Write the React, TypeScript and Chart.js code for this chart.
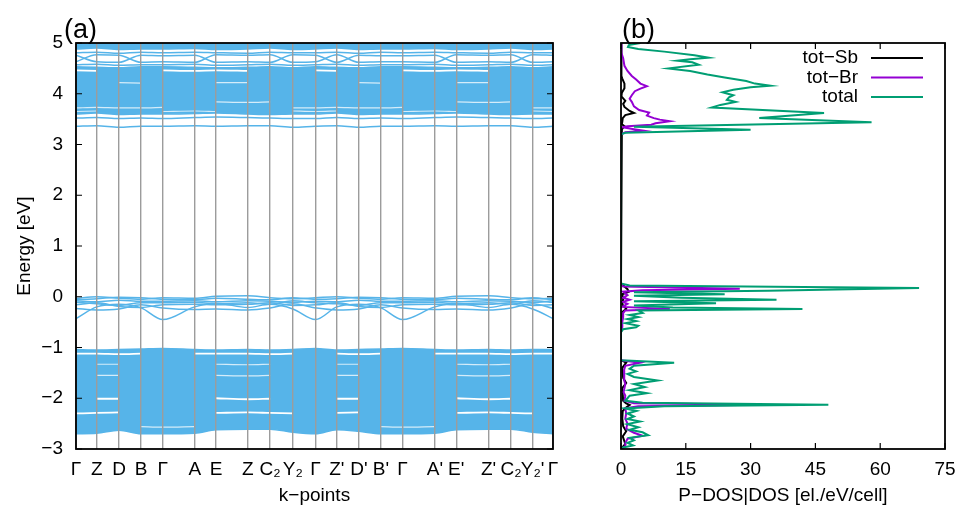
import React, { useEffect, useRef } from "react";
import { Chart, registerables } from "chart.js";

Chart.register(...registerables);

const FONT = "'Liberation Sans', Arial, 'DejaVu Sans', sans-serif";
const BLUE = "#56B4E9";
const GREEN = "#009E73";
const PURPLE = "#9400D3";
const BLACK = "#000000";

// ---------- Panel (a): band structure ----------
const kPos = [0, 20.7, 43, 65, 86.7, 118.7, 140, 171.7, 194, 216.7, 239.3, 260.7, 282.7, 304.7, 326.3, 358.7, 380, 412.3, 434.7, 456.3, 476.7];
const kLabels = ["Γ", "Z", "D", "B", "Γ", "A", "E", "Z", "C₂", "Y₂", "Γ", "Z'", "D'", "B'", "Γ", "A'", "E'", "Z'", "C₂", "Y₂'", "Γ"];

// dense conduction blocks (top / bottom envelopes)
const cUpperTop = [5.3, 5.3, 5.3, 5.3, 5.3, 5.3, 5.3, 5.3, 5.3, 5.3, 5.3, 5.3, 5.3, 5.3, 5.3, 5.3, 5.3, 5.3, 5.3, 5.3, 5.3];
const cUpperBot = [4.88, 4.9, 4.87, 4.88, 4.88, 4.89, 4.87, 4.88, 4.9, 4.87, 4.88, 4.9, 4.87, 4.88, 4.88, 4.89, 4.87, 4.88, 4.9, 4.87, 4.88];
const cMainTop = [4.53, 4.52, 4.51, 4.53, 4.53, 4.52, 4.51, 4.52, 4.53, 4.51, 4.53, 4.52, 4.51, 4.53, 4.53, 4.52, 4.51, 4.52, 4.53, 4.51, 4.53];
const cMainBot = [3.6, 3.62, 3.59, 3.6, 3.6, 3.61, 3.62, 3.6, 3.59, 3.6, 3.6, 3.62, 3.59, 3.6, 3.6, 3.61, 3.62, 3.6, 3.59, 3.6, 3.6];
// single conduction bands
const c481 = [4.81, 4.82, 4.8, 4.82, 4.81, 4.82, 4.81, 4.8, 4.82, 4.81, 4.81, 4.82, 4.8, 4.82, 4.81, 4.82, 4.81, 4.8, 4.82, 4.81, 4.81];
const cx1 = [4.63, 4.77, 4.76, 4.62, 4.63, 4.62, 4.77, 4.76, 4.77, 4.62, 4.63, 4.77, 4.62, 4.63, 4.63, 4.62, 4.77, 4.76, 4.77, 4.62, 4.63];
const cx2 = [4.76, 4.63, 4.62, 4.76, 4.75, 4.76, 4.62, 4.63, 4.62, 4.77, 4.76, 4.62, 4.76, 4.75, 4.75, 4.76, 4.62, 4.63, 4.62, 4.77, 4.76];
const c457 = [4.57, 4.58, 4.56, 4.57, 4.57, 4.58, 4.56, 4.57, 4.58, 4.56, 4.57, 4.58, 4.56, 4.57, 4.57, 4.58, 4.56, 4.57, 4.58, 4.56, 4.57];
const c352 = [3.52, 3.53, 3.51, 3.52, 3.51, 3.53, 3.54, 3.53, 3.52, 3.51, 3.51, 3.53, 3.51, 3.52, 3.51, 3.53, 3.54, 3.53, 3.52, 3.51, 3.52];
const c336 = [3.36, 3.37, 3.34, 3.36, 3.36, 3.37, 3.36, 3.37, 3.37, 3.34, 3.36, 3.37, 3.34, 3.36, 3.36, 3.37, 3.36, 3.37, 3.37, 3.34, 3.36];
// gaps inside the conduction block
const wc1 = [4.46, 4.45, null, null, 4.46, 4.45, 4.46, 4.45, null, null, 4.46, 4.45, null, null, 4.46, 4.45, 4.46, 4.45, null, null, 4.46];
const wc2 = [null, null, 4.22, 4.21, null, null, 4.22, 4.22, null, null, null, null, 4.22, 4.21, null, null, 4.22, 4.22, null, null, null];
const wc3 = [null, null, null, null, null, null, 3.84, 3.83, 3.84, null, null, null, null, null, null, null, 3.84, 3.83, 3.84, null, null];
const wc4 = [3.72, 3.73, 3.72, 3.72, 3.73, null, null, null, null, 3.72, 3.72, 3.73, 3.72, 3.72, 3.73, null, null, null, null, 3.72, 3.72];
const wc5 = [3.65, 3.66, null, null, 3.65, 3.66, 3.65, null, null, 3.66, 3.65, 3.66, null, null, 3.65, 3.66, 3.65, null, null, 3.66, 3.65];

// bands near the valence-band maximum
const n1 = [-0.03, 0.0, -0.03, -0.05, -0.02, -0.03, 0.01, 0.02, -0.02, -0.04, -0.02, 0.0, -0.03, -0.05, -0.02, -0.03, 0.01, 0.02, -0.02, -0.04, -0.03];
const n2 = [-0.06, -0.04, -0.01, -0.02, -0.05, -0.06, -0.03, -0.05, -0.06, -0.02, -0.05, -0.04, -0.01, -0.02, -0.05, -0.06, -0.03, -0.05, -0.06, -0.02, -0.06];
const n3 = [-0.08, -0.1, -0.07, -0.09, -0.09, -0.08, -0.1, -0.08, -0.09, -0.11, -0.09, -0.1, -0.07, -0.09, -0.09, -0.08, -0.1, -0.08, -0.09, -0.11, -0.08];
const n4 = [-0.11, -0.14, -0.17, -0.12, -0.12, -0.11, -0.14, -0.12, -0.15, -0.08, -0.12, -0.14, -0.17, -0.12, -0.12, -0.11, -0.14, -0.12, -0.15, -0.08, -0.11];
const n5 = [-0.16, -0.12, -0.19, -0.21, -0.16, -0.15, -0.16, -0.15, -0.12, -0.17, -0.16, -0.12, -0.19, -0.21, -0.16, -0.15, -0.16, -0.15, -0.12, -0.17, -0.16];
const n6 = [-0.43, -0.2, -0.15, -0.22, -0.45, -0.2, -0.13, -0.21, -0.15, -0.24, -0.45, -0.2, -0.15, -0.22, -0.45, -0.2, -0.13, -0.21, -0.15, -0.24, -0.43];
const n7 = [-0.23, -0.26, -0.24, -0.16, -0.22, -0.25, -0.24, -0.26, -0.22, -0.14, -0.22, -0.26, -0.24, -0.16, -0.22, -0.25, -0.24, -0.26, -0.22, -0.14, -0.23];

// dense valence block
const vTop = [-1.04, -1.05, -1.04, -1.03, -1.02, -1.04, -1.05, -1.04, -1.05, -1.04, -1.02, -1.05, -1.04, -1.03, -1.02, -1.04, -1.05, -1.04, -1.05, -1.04, -1.04];
const vBot = [-2.7, -2.69, -2.63, -2.7, -2.7, -2.69, -2.62, -2.61, -2.61, -2.67, -2.7, -2.62, -2.65, -2.7, -2.7, -2.69, -2.62, -2.61, -2.61, -2.67, -2.7];
// gaps inside the valence block
const wv1 = [-1.12, -1.12, -1.13, -1.12, null, -1.12, -1.12, -1.12, -1.13, -1.12, null, -1.12, -1.13, -1.12, null, -1.12, -1.12, -1.12, -1.13, -1.12, -1.12];
const wv2 = [null, -1.33, -1.33, null, null, null, -1.33, -1.34, -1.33, null, null, -1.33, -1.33, null, null, null, -1.33, -1.34, -1.33, null, null];
const wv3 = [null, -1.55, -1.55, null, null, null, -1.55, -1.56, -1.55, null, null, -1.55, -1.55, null, null, null, -1.55, -1.56, -1.55, null, null];
const wv4 = [null, -2.01, -2.01, null, null, null, -2.0, -2.02, -2.01, null, null, -2.01, -2.01, null, null, null, -2.0, -2.02, -2.01, null, null];
const wv5 = [-2.3, -2.29, -2.28, null, null, null, -2.29, -2.28, -2.29, -2.3, null, -2.29, -2.28, null, null, null, -2.29, -2.28, -2.29, -2.3, null];
const wv6 = [null, null, null, -2.56, -2.57, -2.56, null, null, null, null, null, null, null, -2.56, -2.57, -2.56, null, null, null, null, null];

// ---------- Panel (b): DOS ----------
const totalE = [5.0, 4.96, 4.92, 4.88, 4.83, 4.76, 4.71, 4.68, 4.65, 4.62, 4.57, 4.5, 4.45, 4.38, 4.32, 4.25, 4.2, 4.16, 4.13, 4.08, 4.03, 3.97, 3.93, 3.88, 3.84, 3.78, 3.73, 3.62, 3.52, 3.44, 3.35, 3.29, 3.23, 3.2,
  0.26, 0.22, 0.17, 0.12, 0.09, 0.05, 0.02, -0.02, -0.06, -0.09, -0.13, -0.17, -0.21, -0.24, -0.27, -0.32, -0.36, -0.4, -0.44, -0.48, -0.52, -0.57, -0.6, -0.64, -0.7,
  -1.25, -1.3, -1.36, -1.42, -1.47, -1.52, -1.58, -1.65, -1.72, -1.78, -1.84, -1.9, -1.95, -2.0, -2.05, -2.09, -2.13, -2.16, -2.2, -2.25, -2.3, -2.36, -2.41, -2.46, -2.51, -2.57, -2.62, -2.67, -2.73, -2.78, -2.83, -2.88, -2.93, -2.97, -3.0];
const totalDos = [4.5, 1.8, 1.6, 4, 10, 17, 20.3, 16, 13, 16.5, 18, 11, 16, 20, 24, 29, 31, 34.5, 30, 26, 23.5, 26, 25, 24.5, 26.5, 23, 21, 47, 32, 58, 3, 30, 1, 0,
  0, 2, 69, 34, 3, 24, 3, 14, 36, 3, 22, 3, 12, 42, 4, 5, 2, 4, 1.5, 3.5, 1, 4, 3.5, 0.5, 0,
  0, 12.3, 3, 2, 3.5, 1.5, 3, 8.5, 3, 5.5, 2, 6, 2, 1.5, 1, 5, 48, 10, 1, 3.6, 1.5, 3, 1.5, 4.4, 1.5, 4, 2, 5, 6.3, 2, 3, 1.5, 2.8, 0.5, 0];

const brE = [5.0, 4.8, 4.7, 4.55, 4.45, 4.35, 4.28, 4.2, 4.15, 4.1, 4.05, 3.97, 3.9, 3.84, 3.75, 3.68, 3.63, 3.57, 3.52, 3.49, 3.46, 3.42, 3.39, 3.36, 3.34, 3.3, 3.27, 3.24, 3.2,
  0.26, 0.2, 0.16, 0.13, 0.1, 0.03, -0.02, -0.06, -0.1, -0.14, -0.2, -0.24, -0.27, -0.32, -0.4, -0.5, -0.6, -0.7,
  -1.25, -1.3, -1.36, -1.45, -1.55, -1.65, -1.72, -1.8, -1.88, -1.95, -2.05, -2.1, -2.13, -2.16, -2.2, -2.3, -2.4, -2.5, -2.6, -2.68, -2.74, -2.8, -2.88, -2.95, -3.0];
const brDos = [0, 0.1, 0.5, 0.8, 1.5, 2.5, 3.5, 4.5, 6, 4.5, 3.2, 2.5, 2, 2.5, 3, 4.2, 6.5, 6, 7.6, 9, 11.3, 8, 7, 1.5, 0.3, 3, 5.3, 1, 0,
  0, 0.5, 27.5, 5, 0.5, 1.5, 0.5, 2, 0.5, 1.5, 0.3, 11.3, 1, 0.5, 0.5, 0.3, 0.3, 0,
  0, 4.4, 1, 0.7, 0.8, 0.7, 1, 0.8, 0.6, 1, 0.8, 3, 32, 4, 1, 1.2, 1, 1.5, 1.2, 3, 5, 1.5, 1, 1, 0];

const sbE = [5.0, 4.35, 4.3, 4.2, 4.11, 4.02, 3.95, 3.9, 3.86, 3.8, 3.74, 3.66, 3.62, 3.58, 3.52, 3.45, 3.4, 3.36, 3.3, 3.2,
  0.26, 0.15, 0.1, 0.05, -0.05, -0.15, -0.24, -0.3, -0.7,
  -1.25, -1.3, -1.4, -1.6, -1.7, -1.8, -2.05, -2.1, -2.13, -2.18, -2.25, -2.4, -2.55, -2.65, -2.75, -2.9, -3.0];
const sbDos = [0, 0.1, 0.3, 0.8, 0.8, 0.2, 0.1, 0.6, 1.0, 0.5, 0.8, 2, 3, 1, 0.4, 0.3, 0.2, 0.8, 0.2, 0,
  0, 1.5, 1.8, 0.3, 0.5, 0.3, 1.2, 0.3, 0,
  0, 1.2, 0.3, 0.5, 1.2, 0.3, 0.5, 1.2, 2, 1.2, 0.4, 0.3, 0.5, 1.2, 0.4, 1, 0];

const dosSeries = [
  { label: "tot−Sb", e: sbE, v: sbDos, color: BLACK, order: 2 },
  { label: "tot−Br", e: brE, v: brDos, color: PURPLE, order: 1 },
  { label: "total", e: totalE, v: totalDos, color: GREEN, order: 0 },
];

// ---------- helpers ----------
const toPts = (vals: (number | null)[]) => kPos.map((x, i) => ({ x, y: vals[i] }));
const toDosPts = (es: number[], vs: number[]) => es.map((e, i) => ({ x: vs[i], y: e }));
const minus = (v: number | string) => String(v).replace("-", "−");

const framePlugin = {
  id: "frame",
  afterDraw(chart: any, _args: any, opts: any) {
    const { ctx, chartArea } = chart;
    const { left, right, top, bottom } = chartArea;
    ctx.save();
    ctx.strokeStyle = "#000";
    ctx.lineWidth = 1.2;
    if (opts.yTicks) {
      const s = chart.scales.y;
      s.ticks.forEach((t: any) => {
        const y = s.getPixelForValue(t.value);
        ctx.beginPath();
        ctx.moveTo(left, y); ctx.lineTo(left + 6, y);
        ctx.moveTo(right, y); ctx.lineTo(right - 6, y);
        ctx.stroke();
      });
    }
    if (opts.xTicks) {
      const s = chart.scales.x;
      s.ticks.forEach((t: any) => {
        const x = s.getPixelForValue(t.value);
        ctx.beginPath();
        ctx.moveTo(x, bottom); ctx.lineTo(x, bottom - 6);
        ctx.moveTo(x, top); ctx.lineTo(x, top + 6);
        ctx.stroke();
      });
    }
    ctx.lineWidth = 1.8;
    ctx.strokeRect(left, top, right - left, bottom - top);
    ctx.fillStyle = "#000";
    ctx.font = `27px ${FONT}`;
    ctx.textAlign = "left";
    ctx.textBaseline = "alphabetic";
    ctx.fillText(opts.label, left + opts.labelDx, top - 5);
    ctx.restore();
  },
};

const dosLegendPlugin = {
  id: "dosLegend",
  afterDraw(chart: any) {
    const { ctx, chartArea } = chart;
    const { right, top } = chartArea;
    ctx.save();
    ctx.font = `19px ${FONT}`;
    ctx.textAlign = "right";
    ctx.textBaseline = "middle";
    dosSeries.forEach((s, i) => {
      const y = top + 15 + i * 19.5;
      ctx.fillStyle = "#000";
      ctx.fillText(s.label, right - 87, y);
      ctx.strokeStyle = s.color;
      ctx.lineWidth = 2;
      ctx.beginPath();
      ctx.moveTo(right - 74, y);
      ctx.lineTo(right - 22, y);
      ctx.stroke();
    });
    ctx.restore();
  },
};

function bandLine(vals: (number | null)[], extra: any = {}) {
  return {
    data: toPts(vals),
    borderColor: BLUE,
    backgroundColor: BLUE,
    borderWidth: 1.5,
    pointRadius: 0,
    fill: false,
    cubicInterpolationMode: "monotone",
    order: 5,
    ...extra,
  };
}

function gapLine(vals: (number | null)[], strong: boolean) {
  return {
    data: toPts(vals),
    borderColor: strong ? "#ffffff" : "rgba(255,255,255,0.75)",
    borderWidth: strong ? 1.8 : 1.2,
    pointRadius: 0,
    fill: false,
    cubicInterpolationMode: "monotone",
    order: 1,
  };
}

function leftConfig() {
  const datasets: any[] = [];
  const blocks = [[cUpperTop, cUpperBot], [cMainTop, cMainBot], [vTop, vBot]];
  blocks.forEach(([t, b]) => {
    datasets.push(bandLine(t, { fill: "+1", order: 10 }));
    datasets.push(bandLine(b, { order: 10 }));
  });
  [c481, cx1, cx2, c457, c352, c336, n1, n2, n3, n4, n5, n6, n7].forEach((b) => datasets.push(bandLine(b)));
  [wc1, wv1, wv4, wv5].forEach((g) => datasets.push(gapLine(g, true)));
  [wc2, wc3, wc4, wc5, wv2, wv3, wv6].forEach((g) => datasets.push(gapLine(g, false)));

  return {
    type: "line",
    data: { datasets },
    plugins: [framePlugin],
    options: {
      animation: false,
      responsive: false,
      events: [],
      layout: { padding: { left: 0, right: 27, top: 43, bottom: 0 } },
      plugins: {
        legend: { display: false },
        tooltip: { enabled: false },
        frame: { label: "(a)", labelDx: -12, yTicks: true, xTicks: false },
      },
      scales: {
        x: {
          type: "linear",
          min: 0,
          max: kPos[kPos.length - 1],
          z: 1,
          afterBuildTicks: (s: any) => {
            s.ticks = kPos.map((v) => ({ value: v }));
          },
          afterFit: (s: any) => {
            s.height = 60;
            s.paddingLeft = 0;
            s.paddingRight = 0;
          },
          grid: { color: "#9c9c9c", lineWidth: 1.4, drawTicks: false, z: 1 },
          border: { display: false },
          ticks: {
            autoSkip: false,
            maxRotation: 0,
            padding: 9,
            color: "#000",
            font: { family: FONT, size: 19 },
            callback: (_v: any, i: number) => kLabels[i],
          },
          title: {
            display: true,
            text: "k−points",
            color: "#000",
            font: { family: FONT, size: 19 },
            padding: { top: 0, bottom: 2 },
          },
        },
        y: {
          type: "linear",
          min: -3,
          max: 5,
          afterFit: (s: any) => {
            s.width = 76;
          },
          grid: { display: false, drawTicks: false },
          border: { display: false },
          ticks: {
            stepSize: 1,
            padding: 13,
            color: "#000",
            font: { family: FONT, size: 19 },
            callback: (v: any) => minus(v),
          },
          title: {
            display: true,
            text: "Energy [eV]",
            color: "#000",
            font: { family: FONT, size: 19 },
            padding: { top: 13, bottom: 0 },
          },
        },
      },
    },
  };
}

function rightConfig() {
  const datasets = dosSeries.map((s) => ({
    label: s.label,
    data: toDosPts(s.e, s.v),
    borderColor: s.color,
    backgroundColor: s.color,
    borderWidth: 2,
    pointRadius: 0,
    fill: false,
    tension: 0,
    order: s.order,
  }));
  return {
    type: "line",
    data: { datasets },
    plugins: [framePlugin, dosLegendPlugin],
    options: {
      animation: false,
      responsive: false,
      events: [],
      layout: { padding: { left: 41, right: 15, top: 43, bottom: 0 } },
      plugins: {
        legend: { display: false },
        tooltip: { enabled: false },
        frame: { label: "(b)", labelDx: 1, yTicks: false, xTicks: true },
      },
      scales: {
        x: {
          type: "linear",
          min: 0,
          max: 75,
          afterFit: (s: any) => {
            s.height = 60;
            s.paddingLeft = 0;
            s.paddingRight = 0;
          },
          grid: { display: false, drawTicks: false },
          border: { display: false },
          ticks: {
            stepSize: 15,
            padding: 9,
            color: "#000",
            font: { family: FONT, size: 19 },
          },
          title: {
            display: true,
            text: "P−DOS|DOS [el./eV/cell]",
            color: "#000",
            font: { family: FONT, size: 19 },
            padding: { top: 0, bottom: 2 },
          },
        },
        y: {
          type: "linear",
          min: -3,
          max: 5,
          display: false,
        },
      },
    },
  };
}

export default function App() {
  const leftRef = useRef<HTMLCanvasElement>(null);
  const rightRef = useRef<HTMLCanvasElement>(null);
  useEffect(() => {
    const c1 = new Chart(leftRef.current as HTMLCanvasElement, leftConfig() as any);
    const c2 = new Chart(rightRef.current as HTMLCanvasElement, rightConfig() as any);
    return () => {
      c1.destroy();
      c2.destroy();
    };
  }, []);
  return (
    <div style={{ position: "fixed", left: 0, top: 0, width: 960, height: 509, background: "#fff", overflow: "hidden" }}>
      <canvas ref={leftRef} width={580} height={509} style={{ position: "absolute", left: 0, top: 0 }} />
      <canvas ref={rightRef} width={380} height={509} style={{ position: "absolute", left: 580, top: 0 }} />
    </div>
  );
}
